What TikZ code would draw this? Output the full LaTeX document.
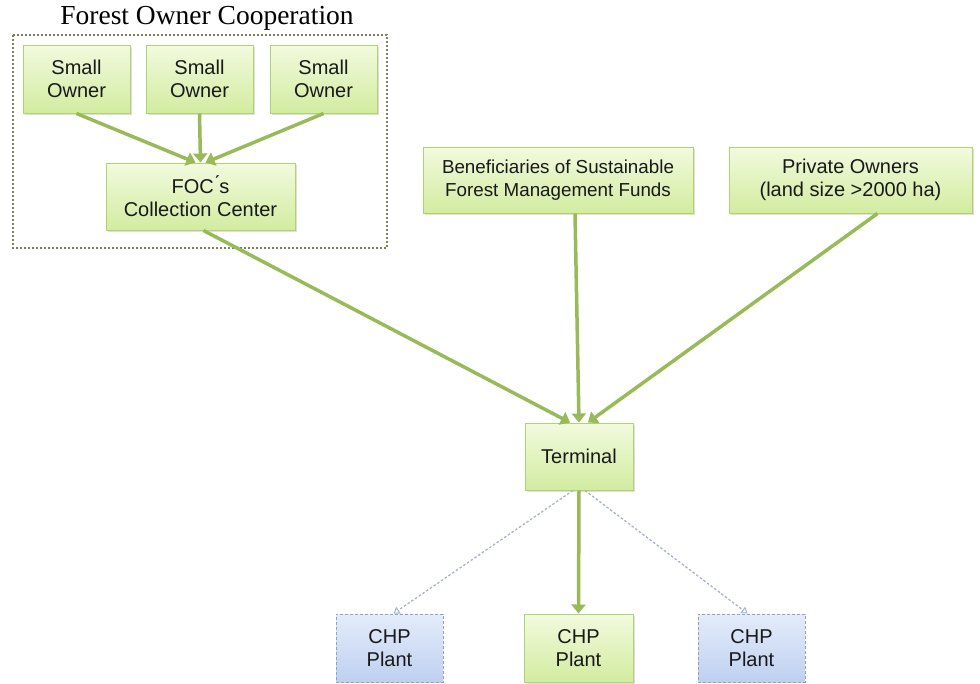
\documentclass[tikz,border=0pt]{standalone}
\usepackage{fontspec}
\setmainfont{Liberation Serif}
\setsansfont{Liberation Sans}
\usetikzlibrary{arrows.meta,shadows}

\definecolor{boxtop}{RGB}{242,250,222}
\definecolor{boxbot}{RGB}{210,236,160}
\definecolor{boxline}{RGB}{176,210,112}
\definecolor{bluetop}{RGB}{228,236,250}
\definecolor{bluebot}{RGB}{190,208,240}
\definecolor{blueline}{RGB}{150,160,180}
\definecolor{flow}{RGB}{152,186,88}
\definecolor{optflow}{RGB}{168,178,200}
\definecolor{frameline}{RGB}{128,128,88}
\definecolor{inktext}{RGB}{25,25,25}

\tikzset{
  greenbox/.style={draw=boxline, line width=1pt, top color=boxtop, bottom color=boxbot,
    align=center, text=inktext, font=\sffamily\fontsize{20}{23}\selectfont,
    inner sep=2pt, anchor=center,
    drop shadow={shadow xshift=1.5pt, shadow yshift=-2pt, opacity=0.25}},
  bluebox/.style={draw=blueline, line width=1pt, dash pattern=on 3pt off 2pt,
    top color=bluetop, bottom color=bluebot,
    align=center, text=inktext, font=\sffamily\fontsize{20}{23}\selectfont,
    inner sep=2pt, anchor=center},
  mainflow/.style={draw=flow, line width=3.5pt,
    -{Triangle[width=14pt,length=9pt]}},
  optionflow/.style={draw=optflow, line width=1.3pt, dash pattern=on 2.5pt off 2pt,
    -{Triangle[open,width=8pt,length=6pt,line width=1pt]}},
}

\begin{document}
\begin{tikzpicture}[x=1pt,y=-1pt]
  \useasboundingbox (0,0) rectangle (980,683);

  % cooperation frame and its caption
  \draw[frameline, line width=2pt, dash pattern=on 2pt off 2pt] (13,35) rectangle (387,248);
  \node (title) at (207,18) {\fontsize{27.5}{30}\selectfont Forest Owner Cooperation};

  % suppliers
  \node[greenbox, minimum width=107pt, minimum height=68pt] (so1) at (76.5,79) {Small\\Owner};
  \node[greenbox, minimum width=107pt, minimum height=68pt] (so2) at (199.5,79) {Small\\Owner};
  \node[greenbox, minimum width=107pt, minimum height=68pt] (so3) at (323.5,79) {Small\\Owner};
  \node[greenbox, minimum width=189pt, minimum height=67pt] (foc) at (200.5,196.5) {FOC\'{}s\\Collection Center};
  \node[greenbox, minimum width=270pt, minimum height=66pt,
        font=\sffamily\fontsize{18.8}{23}\selectfont] (ben) at (558,180)
        {Beneficiaries of Sustainable\\Forest Management Funds};
  \node[greenbox, minimum width=243pt, minimum height=66pt] (priv) at (850.5,180)
        {Private Owners\\(land size >2000 ha)};

  % terminal and plants
  \node[greenbox, minimum width=108pt, minimum height=67pt] (term) at (579,456.5) {Terminal};
  \node[bluebox, minimum width=107pt, minimum height=68pt] (chp1) at (389.5,648) {CHP\\Plant};
  \node[greenbox, minimum width=109pt, minimum height=68pt] (chp2) at (578.5,648) {CHP\\Plant};
  \node[bluebox, minimum width=107pt, minimum height=68pt] (chp3) at (751.5,648) {CHP\\Plant};

  % flows inside the cooperation
  \draw[mainflow] (so1.south) -- ([xshift=-5pt]foc.north);
  \draw[mainflow] (so2.south) -- (foc.north);
  \draw[mainflow] (so3.south) -- ([xshift=5pt]foc.north);

  % flows to the terminal
  \draw[mainflow] ([xshift=3pt]foc.south) -- ([xshift=-9pt]term.north);
  \draw[mainflow] ([xshift=17pt]ben.south) -- ([xshift=0pt]term.north);
  \draw[mainflow] ([xshift=27pt]priv.south) -- ([xshift=9pt]term.north);

  % deliveries to the plants
  \draw[mainflow] (term.south) -- (chp2.north);
  \draw[optionflow] ([xshift=-6pt]term.south) -- ([xshift=4pt]chp1.north);
  \draw[optionflow] ([xshift=6pt]term.south) -- ([xshift=-4pt]chp3.north);
\end{tikzpicture}
\end{document}
